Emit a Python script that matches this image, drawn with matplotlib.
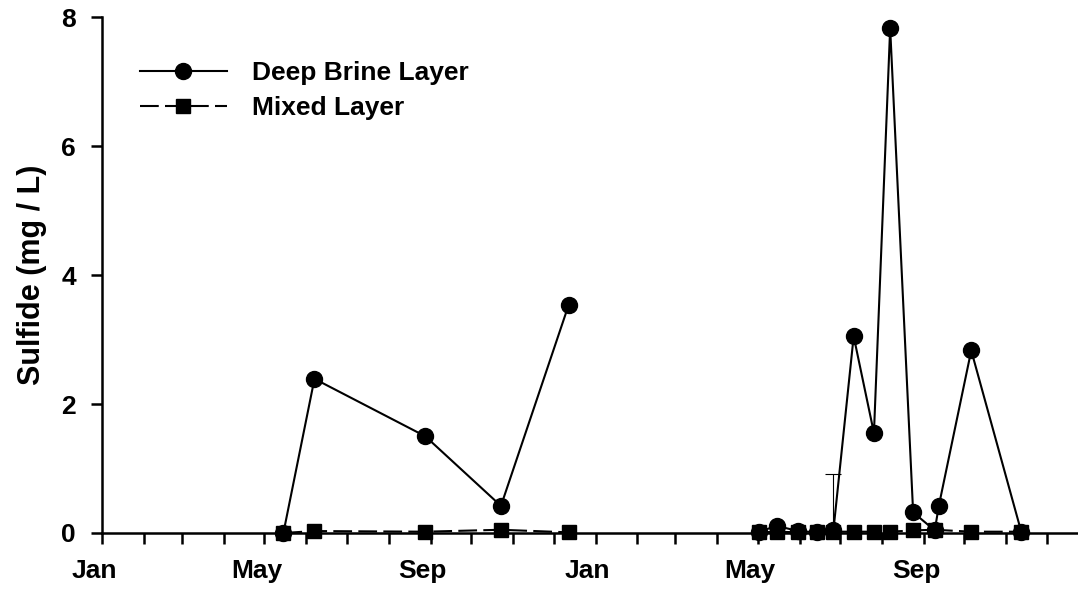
import matplotlib
matplotlib.use('Agg')
import matplotlib.pyplot as plt
import matplotlib.dates as mdates
from matplotlib.transforms import ScaledTranslation
import pandas as pd

# data (two seasons)
dates_y1 = pd.to_datetime(['2001-05-15', '2001-06-07', '2001-08-28', '2001-10-23', '2001-12-12'])
brine_y1 = [0.0, 2.39, 1.50, 0.42, 3.53]
mixed_y1 = [0.0, 0.03, 0.02, 0.05, 0.01]

dates_brine_y2 = pd.to_datetime(['2002-05-02', '2002-05-15', '2002-05-31', '2002-06-14', '2002-06-26',
                                 '2002-07-11', '2002-07-26', '2002-08-07', '2002-08-24', '2002-09-09',
                                 '2002-09-12', '2002-10-06', '2002-11-12'])
brine_y2 = [0.02, 0.11, 0.03, 0.01, 0.04, 3.05, 1.55, 7.83, 0.32, 0.04, 0.42, 2.83, 0.02]

dates_mixed_y2 = pd.to_datetime(['2002-05-02', '2002-05-15', '2002-05-31', '2002-06-14', '2002-06-26',
                                 '2002-07-11', '2002-07-26', '2002-08-07', '2002-08-24', '2002-09-09',
                                 '2002-10-06', '2002-11-12'])
mixed_y2 = [0.01, 0.02, 0.01, 0.01, 0.02, 0.02, 0.02, 0.02, 0.04, 0.05, 0.02, 0.02]

# upper error bar on one deep brine sample
err_date = pd.to_datetime(['2002-06-26'])
err_val = [0.04]
err_up = [0.87]

plt.rcParams['font.family'] = ['Liberation Sans', 'DejaVu Sans']
plt.rcParams['font.weight'] = 'bold'

fig = plt.figure(figsize=(10.78, 5.93), dpi=100)
ax = fig.add_axes([0.0949, 0.1012, 0.9051, 0.870])

brine_style = dict(color='black', lw=1.5, marker='o', ms=11.5, clip_on=False, zorder=3)
mixed_style = dict(color='black', lw=1.5, marker='s', ms=10, dashes=[9, 3], clip_on=False, zorder=4)

ax.errorbar(err_date, err_val, yerr=[[0], err_up], fmt='none', ecolor='black',
            elinewidth=0.8, capsize=5.5, capthick=0.8, zorder=2)

ax.plot(dates_y1, brine_y1, label='Deep Brine Layer', **brine_style)
ax.plot(dates_brine_y2, brine_y2, **brine_style)
ax.plot(dates_y1, mixed_y1, label='Mixed Layer', **mixed_style)
ax.plot(dates_mixed_y2, mixed_y2, **mixed_style)

ax.set_xlim(pd.Timestamp('2001-01-01'), pd.Timestamp('2002-12-24'))
ax.set_ylim(0, 8)
ax.set_yticks([0, 2, 4, 6, 8])

ax.xaxis.set_major_locator(mdates.MonthLocator(bymonth=[1, 5, 9]))
ax.xaxis.set_major_formatter(mdates.DateFormatter('%b'))
ax.xaxis.set_minor_locator(mdates.MonthLocator())

for s in ['top', 'right']:
    ax.spines[s].set_visible(False)
for s in ['left', 'bottom']:
    ax.spines[s].set_linewidth(1.8)

ax.tick_params(axis='both', which='both', direction='out', length=8, width=1.8,
               labelsize=19, pad=11)
for lab in ax.get_xticklabels():
    lab.set_transform(lab.get_transform() + ScaledTranslation(-0.08, 0, fig.dpi_scale_trans))

ax.set_ylabel('Sulfide (mg / L)', fontsize=22, fontweight='bold', labelpad=10)

ax.legend(loc='upper left', bbox_to_anchor=(0.014, 0.96), frameon=False, fontsize=19,
          handlelength=3.3, handletextpad=0.95, labelspacing=0.4)

plt.savefig('out.png', dpi=100)
